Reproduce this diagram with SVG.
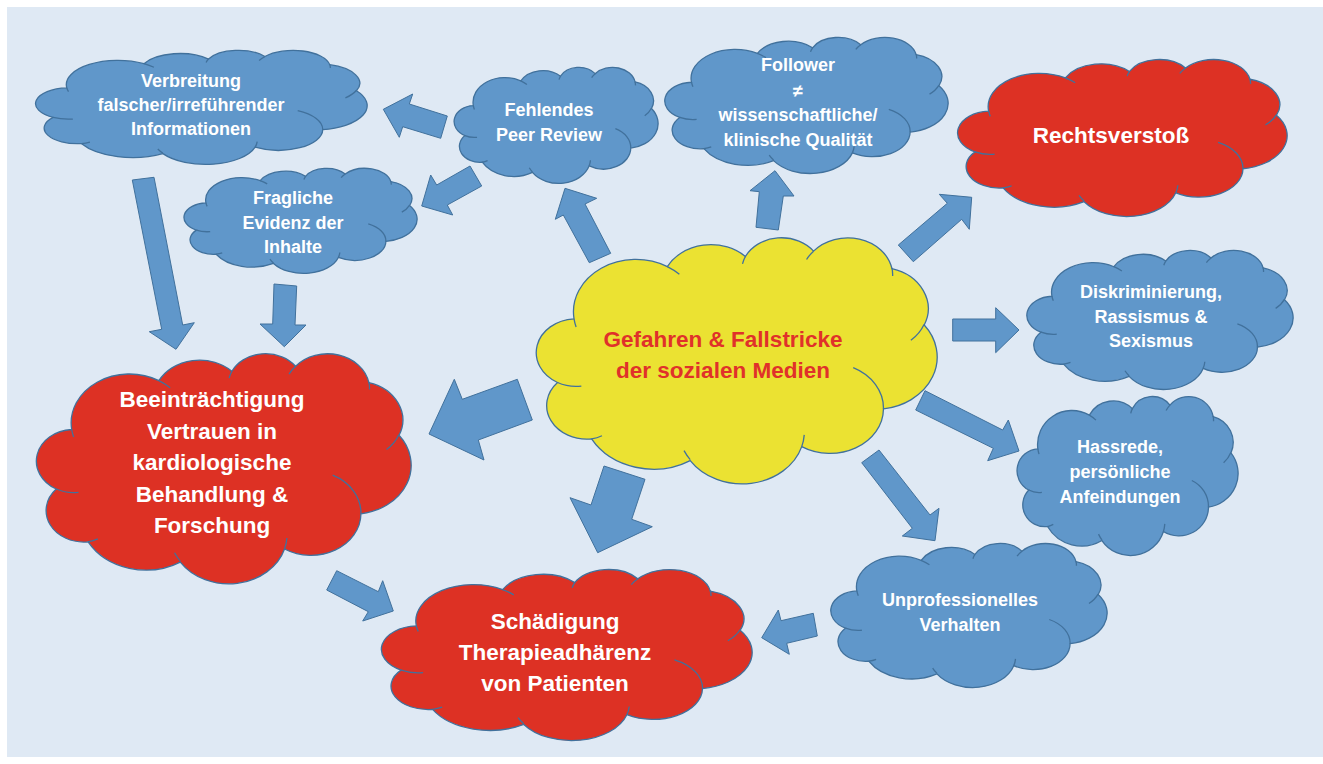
<svg xmlns="http://www.w3.org/2000/svg" xmlns:xlink="http://www.w3.org/1999/xlink" width="1323" height="764" viewBox="0 0 1323 764">
<style>
.bg{fill:#dfe9f4}
.cl{stroke:#41719c;stroke-width:1.3;vector-effect:non-scaling-stroke}
.cr{fill:none;stroke:#41719c;stroke-width:1.3;vector-effect:non-scaling-stroke}
.blue{fill:#6097ca}
.red{fill:#dd3124}
.yellow{fill:#ebe232}
.arrow{fill:#6097ca;stroke:#41719c;stroke-width:1;stroke-linejoin:miter}
text{font-family:"Liberation Sans",Arial,sans-serif;font-weight:bold;text-anchor:middle}
.tb{font-size:18px;fill:#ffffff}
.tr{font-size:22.5px;fill:#ffffff}
.ty{font-size:22.5px;fill:#e0312a}
</style>
<defs>
<path id="cloud" class="cl" d="M9.03 33.26A15.63 21.27 0 0 1 32.42 12.04A12.34 16.82 0 0 1 51.98 7.94A10.10 13.76 0 0 1 69.06 5.75A11.24 15.27 0 0 1 88.70 12.90A12.34 16.84 0 0 1 96.80 35.78A15.68 21.34 0 0 1 86.58 69.91A13.39 18.21 0 0 1 66.10 85.21A15.63 21.33 0 0 1 38.15 90.89A17.87 24.41 0 0 1 13.43 82.10A10.09 13.70 0 0 1 4.89 59.14A10.06 13.76 0 0 1 9.03 33.26Z"/>
<path id="crease" class="cr" d="M10.86 60.59A10.06 13.76 0 0 1 4.89 59.14M16.04 80.78A10.09 13.70 0 0 1 13.43 82.10M38.14 90.49A15.63 21.33 0 0 1 36.60 86.86M66.73 80.44A15.63 21.33 0 0 1 66.10 85.21M79.00 53.13A13.39 18.21 0 0 1 86.58 69.91M96.75 35.54A12.34 16.84 0 0 1 93.45 41.98M88.71 12.56A11.24 15.27 0 0 1 88.88 15.83M67.31 9.15A11.24 15.27 0 0 1 69.06 5.75M51.25 10.93A10.10 13.76 0 0 1 51.98 7.94M32.41 12.02A15.63 21.27 0 0 1 35.43 15.16M9.55 36.55A15.63 21.27 0 0 1 9.03 33.26"/>
</defs>
<rect x="0" y="0" width="1323" height="764" fill="#ffffff"/>
<rect class="bg" x="7" y="7" width="1316" height="750"/>

<g id="connectors">
<polygon class="arrow" points="383.3,109.3 412.7,94 409.3,104 447.3,116 440.7,138.3 402.7,126.7 399.3,137.3"/>
<polygon class="arrow" points="421.7,206 430.7,175 436.7,185 470,166 481.7,186 447.3,205 452.7,215"/>
<polygon class="arrow" points="565,188.3 596.7,198.3 585,204 610.7,253.3 589.3,262.7 563.3,215 555.3,219.3"/>
<polygon class="arrow" points="775,170.7 794,196 783.3,196 778.3,230 756,227.3 759.3,191.7 750,190.7"/>
<polygon class="arrow" points="971.7,197.3 969.3,229.3 961.7,219.3 913.3,261.7 898.3,245 947.3,203.3 939.3,194.3"/>
<polygon class="arrow" points="1019,330 995.7,307.7 995.7,319 952.7,319 952.7,341 995.7,341 995.7,352.7"/>
<polygon class="arrow" points="1019,451 987.7,460.7 993.3,448.3 915.7,410 925,390.7 1002.7,430 1008.3,420"/>
<polygon class="arrow" points="935,540.7 902.3,536 912.3,528.3 861.7,462.7 879,450 930,515 939,508.3"/>
<polygon class="arrow" points="597.7,552.7 570,497.7 591,505 604,466 645,479.3 631.7,519.3 652.3,526.7"/>
<polygon class="arrow" points="429,434 454.3,379.3 462.3,399.3 517.3,379.3 532.3,420 478.3,440 484,460"/>
<polygon class="arrow" points="176,349.3 149.3,331.7 161.7,329.3 132.3,180 154,177.3 182.7,325 194.3,322.7"/>
<polygon class="arrow" points="284.3,346.7 260,324 272.7,324 274,284 296.7,286 295,325 306,325"/>
<polygon class="arrow" points="393.3,611 362.7,621 368.3,611.7 326.7,590 336.7,570.7 378.3,591.7 382.7,580.7"/>
<polygon class="arrow" points="761.7,637.7 778.3,610 781,620.7 813.3,613.3 817.3,636 786.7,643.3 789.3,654.3"/>
</g>

<g id="node-verbreitung">
<g transform="translate(37,50) scale(3.30,1.14)"><use xlink:href="#cloud" class="blue"/><use xlink:href="#crease"/></g>
<text class="tb" x="191" y="87">Verbreitung</text>
<text class="tb" x="191" y="111">falscher/irreführender</text>
<text class="tb" x="191" y="135">Informationen</text>
</g>

<g id="node-fragliche">
<g transform="translate(185,168) scale(2.32,1.05)"><use xlink:href="#cloud" class="blue"/><use xlink:href="#crease"/></g>
<text class="tb" x="293" y="204">Fragliche</text>
<text class="tb" x="293" y="229">Evidenz der</text>
<text class="tb" x="293" y="253">Inhalte</text>
</g>

<g id="node-peer">
<g transform="translate(455,67) scale(2.03,1.16)"><use xlink:href="#cloud" class="blue"/><use xlink:href="#crease"/></g>
<text class="tb" x="549" y="116">Fehlendes</text>
<text class="tb" x="549" y="141">Peer Review</text>
</g>

<g id="node-follower">
<g transform="translate(666,37) scale(2.82,1.36)"><use xlink:href="#cloud" class="blue"/><use xlink:href="#crease"/></g>
<text class="tb" x="798" y="71">Follower</text>
<text class="tb" x="798" y="97">≠</text>
<text class="tb" x="798" y="121">wissenschaftliche/</text>
<text class="tb" x="798" y="146">klinische Qualität</text>
</g>

<g id="node-recht">
<g transform="translate(959,59) scale(3.28,1.57)"><use xlink:href="#cloud" class="red"/><use xlink:href="#crease"/></g>
<text class="tr" x="1111" y="143">Rechtsverstoß</text>
</g>

<g id="node-center">
<g transform="translate(538,237) scale(3.99,2.46)"><use xlink:href="#cloud" class="yellow"/><use xlink:href="#crease"/></g>
<text class="ty" x="723" y="347">Gefahren &amp; Fallstricke</text>
<text class="ty" x="723" y="378">der sozialen Medien</text>
</g>

<g id="node-diskriminierung">
<g transform="translate(1028,250) scale(2.65,1.39)"><use xlink:href="#cloud" class="blue"/><use xlink:href="#crease"/></g>
<text class="tb" x="1151" y="298">Diskriminierung,</text>
<text class="tb" x="1151" y="323">Rassismus &amp;</text>
<text class="tb" x="1151" y="347">Sexismus</text>
</g>

<g id="node-hassrede">
<g transform="translate(1018,396) scale(2.20,1.59)"><use xlink:href="#cloud" class="blue"/><use xlink:href="#crease"/></g>
<text class="tb" x="1120" y="453">Hassrede,</text>
<text class="tb" x="1120" y="478">persönliche</text>
<text class="tb" x="1120" y="503">Anfeindungen</text>
</g>

<g id="node-unprof">
<g transform="translate(832,543) scale(2.75,1.44)"><use xlink:href="#cloud" class="blue"/><use xlink:href="#crease"/></g>
<text class="tb" x="960" y="606">Unprofessionelles</text>
<text class="tb" x="960" y="631">Verhalten</text>
</g>

<g id="node-vertrauen">
<g transform="translate(38,353) scale(3.73,2.30)"><use xlink:href="#cloud" class="red"/><use xlink:href="#crease"/></g>
<text class="tr" x="212" y="407">Beeinträchtigung</text>
<text class="tr" x="212" y="439">Vertrauen in</text>
<text class="tr" x="212" y="470">kardiologische</text>
<text class="tr" x="212" y="502">Behandlung &amp;</text>
<text class="tr" x="212" y="533">Forschung</text>
</g>

<g id="node-adhaerenz">
<g transform="translate(383,569) scale(3.69,1.71)"><use xlink:href="#cloud" class="red"/><use xlink:href="#crease"/></g>
<text class="tr" x="555" y="629">Schädigung</text>
<text class="tr" x="555" y="660">Therapieadhärenz</text>
<text class="tr" x="555" y="691">von Patienten</text>
</g>
</svg>
